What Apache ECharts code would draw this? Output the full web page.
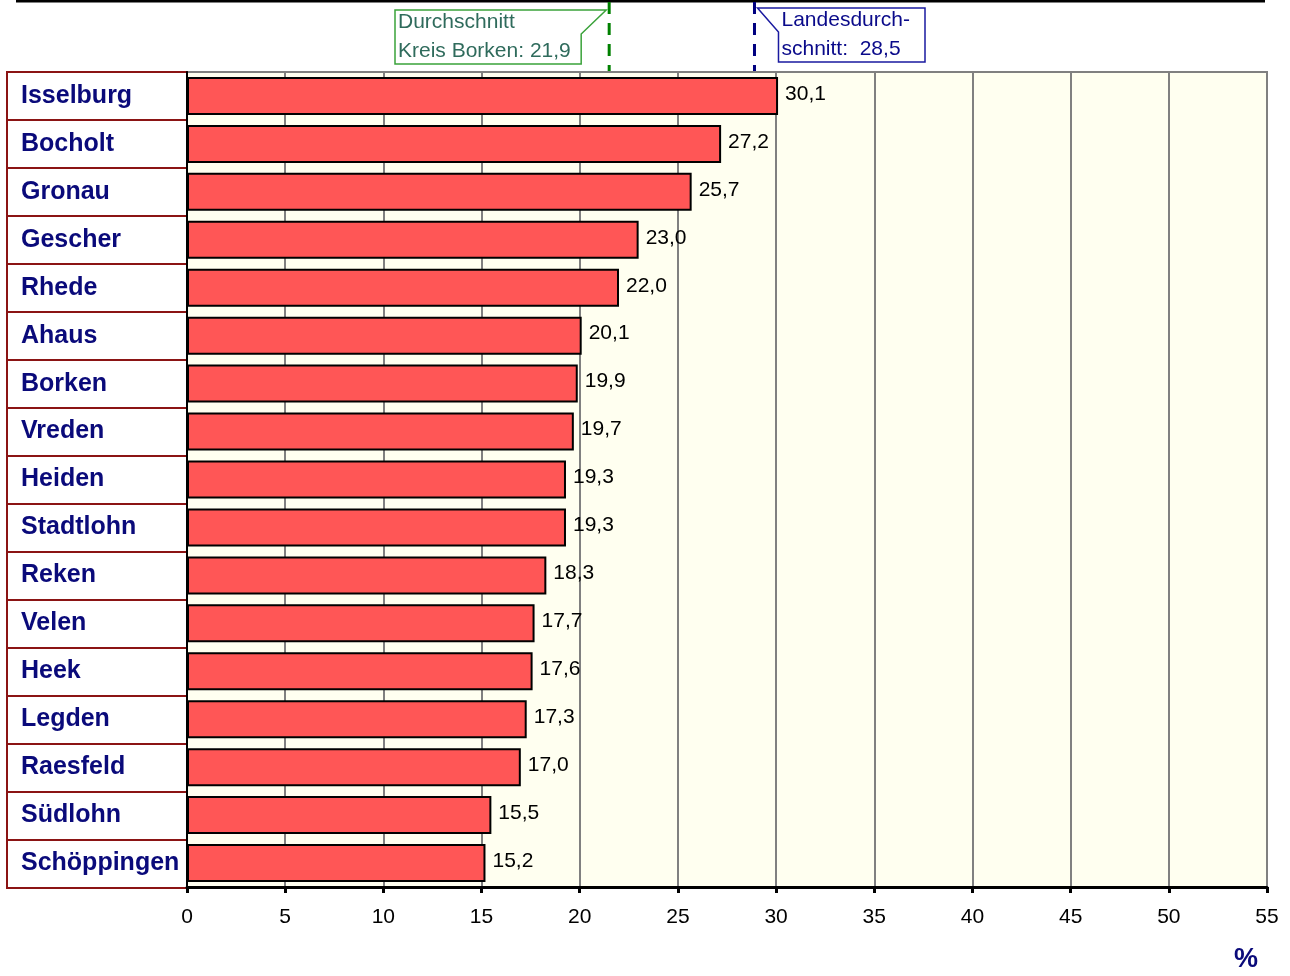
<!DOCTYPE html>
<html><head><meta charset="utf-8">
<script src="https://cdn.jsdelivr.net/npm/echarts@6/dist/echarts.min.js"></script>
<style>html,body{margin:0;padding:0;background:#fff}#c{width:1290px;height:976px}</style>
</head><body><div id="c"></div>
<script>
const categories = ['Isselburg','Bocholt','Gronau','Gescher','Rhede','Ahaus','Borken','Vreden','Heiden','Stadtlohn','Reken','Velen','Heek','Legden','Raesfeld','Südlohn','Schöppingen'];
const values = [30.1,27.2,25.7,23.0,22.0,20.1,19.9,19.7,19.3,19.3,18.3,17.7,17.6,17.3,17.0,15.5,15.2];
const refLinePositions = [21.5, 28.9];
const refLabels = [['Durchschnitt','Kreis Borken: 21,9'], ['Landesdurch-','schnitt:  28,5']];
const xTicks = {min:0, max:55, interval:5};

const chart = echarts.init(document.getElementById('c'));
const FONT = 'Liberation Sans, Arial, sans-serif';
const fmt = v => v.toFixed(1).replace('.', ',');

chart.setOption({
  animation:false,
  backgroundColor:'#ffffff',
  grid:[
    {left:187, right:23, top:72, bottom:89, show:true, backgroundColor:'#fffff0', borderColor:'#808080', borderWidth:2},
    {left:7, width:180, top:72, bottom:88, show:true, backgroundColor:'#ffffff', borderColor:'#8b1414', borderWidth:2}
  ],
  xAxis:[
    {type:'value', gridIndex:0, min:xTicks.min, max:xTicks.max, interval:xTicks.interval,
     axisLine:{show:true, lineStyle:{color:'#000', width:3}},
     axisTick:{show:true, length:6, lineStyle:{color:'#000', width:3}},
     axisLabel:{color:'#000', fontSize:21, fontFamily:FONT, margin:20},
     splitLine:{show:true, lineStyle:{color:'#808080', width:2}}},
    {type:'value', gridIndex:1, show:false, min:0, max:1}
  ],
  yAxis:[
    {type:'category', gridIndex:0, data:categories, inverse:true,
     axisLine:{show:true, lineStyle:{color:'#000', width:2}},
     axisTick:{show:false},
     axisLabel:{align:'left', margin:166, color:'#0a0a7a', fontSize:25, fontWeight:'bold', fontFamily:FONT},
     splitLine:{show:false}},
    {type:'category', gridIndex:1, data:categories, inverse:true,
     axisLine:{show:false}, axisTick:{show:false}, axisLabel:{show:false},
     splitLine:{show:true, lineStyle:{color:'#8b1414', width:2}}}
  ],
  series:[{
    type:'bar', xAxisIndex:0, yAxisIndex:0, data:values, barWidth:38,
    itemStyle:{color:'#ff5656', borderColor:'#000', borderWidth:2},
    label:{show:true, position:'right', distance:7, offset:[0,-2], color:'#000', fontSize:21, fontFamily:FONT,
      formatter:p => fmt(p.value)}
  }]
});

const gx = refLinePositions.map(v => chart.convertToPixel({xAxisIndex:0}, v));
const g = gx[0], b = gx[1];
chart.setOption({graphic:[
  {type:'line', shape:{x1:16, y1:1, x2:1265, y2:1}, style:{stroke:'#000', lineWidth:3}, z:10},
  {type:'line', shape:{x1:g, y1:2, x2:g, y2:71}, style:{stroke:'#008000', lineWidth:3, lineDash:[12,9]}, z:10},
  {type:'line', shape:{x1:b, y1:2, x2:b, y2:71}, style:{stroke:'#000080', lineWidth:3, lineDash:[12,9]}, z:10},
  {type:'polygon', shape:{points:[[395,10],[g-3,10],[g-28,34],[g-28,64],[395,64]]},
   style:{fill:'#fff', stroke:'#3aa23a', lineWidth:1.5}, z:10},
  {type:'text', left:398, top:12, style:{text:refLabels[0][0], fill:'#2f6b5c', font:'21px '+FONT}, z:11},
  {type:'text', left:398, top:41, style:{text:refLabels[0][1], fill:'#2f6b5c', font:'21px '+FONT}, z:11},
  {type:'polygon', shape:{points:[[b+3,8],[925,8],[925,62],[b+24,62],[b+24,32]]},
   style:{fill:'#fff', stroke:'#1a1aa0', lineWidth:1.5}, z:10},
  {type:'text', left:b+27, top:10, style:{text:refLabels[1][0], fill:'#0a0a8a', font:'21px '+FONT}, z:11},
  {type:'text', left:b+27, top:39, style:{text:refLabels[1][1], fill:'#0a0a8a', font:'21px '+FONT}, z:11},
  {type:'text', left:1234, top:946, style:{text:'%', fill:'#0a0a7a', font:'bold 27px '+FONT}, z:11}
]});
</script></body></html>
